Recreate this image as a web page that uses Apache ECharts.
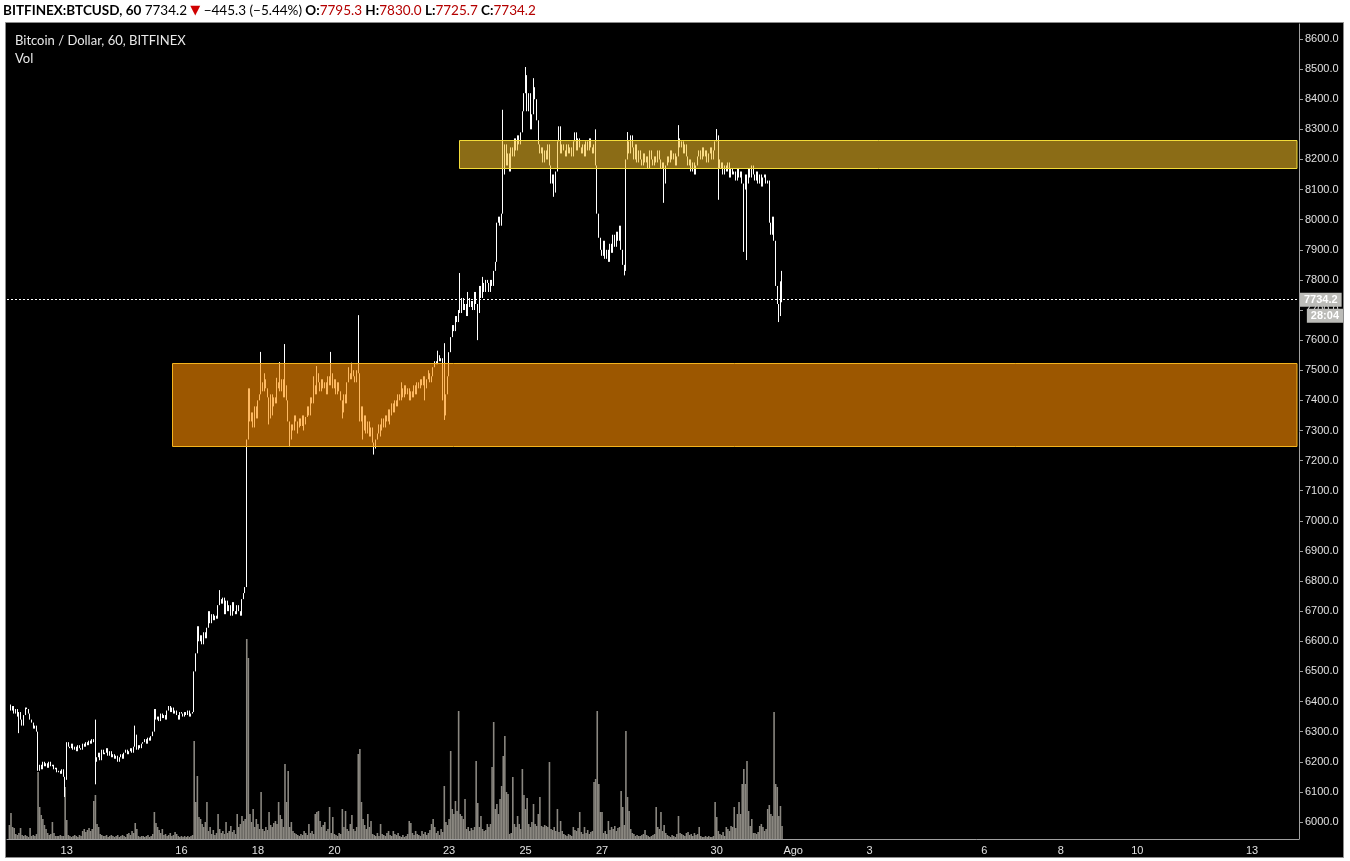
<!DOCTYPE html>
<html><head><meta charset="utf-8">
<script src="https://cdn.jsdelivr.net/npm/echarts@6/dist/echarts.min.js"></script>
<style>html,body{margin:0;padding:0;background:#fff;}#c{width:1350px;height:861px;}</style>
</head><body><div id="c"></div>
<script>
// ---------------- DATA ----------------
const symbolText = 'BITFINEX:BTCUSD, 60';
const chartTitle = 'Bitcoin / Dollar, 60, BITFINEX';
const volTitle = 'Vol';
const lastBar = { o: 7795.3, h: 7830.0, l: 7725.7, c: 7734.2, chg: -445.3, pct: -5.44 };
const countdown = '28:04';

// hourly closes, first bar 2018-07-11 12:00
const closes = [
 6390,6370,6385,6360,6375,6350,6365,6340,6320,6355,6380,6375,
 6360,6340,6330,6310,6320,6300,6170,6190,6175,6200,6185,6195,6180,6200,6185,6190,6175,6180,6165,6170,6160,6175,6150,6140,
 6265,6250,6245,6260,6240,6250,6235,6255,6245,6240,6260,6250,6265,6255,6270,6260,6275,6265,6200,6215,6230,6205,6240,6225,
 6230,6245,6220,6235,6215,6225,6210,6220,6200,6215,6225,6210,6230,6240,6225,6235,6245,6230,6250,6290,6240,6255,6245,6260,
 6265,6275,6260,6280,6270,6285,6300,6375,6340,6350,6335,6360,6345,6355,6340,6370,6385,6365,6380,6360,6370,6355,6340,6365,
 6360,6350,6365,6355,6370,6350,6360,6365,6500,6560,6650,6600,6620,6590,6630,6610,6645,6700,6660,6690,6670,6685,6675,6720,
 6740,6725,6745,6690,6735,6700,6720,6685,6730,6700,6690,6720,6700,6685,6740,6760,6780,7270,7440,7330,7360,7310,7380,7340,
 7400,7420,7460,7430,7470,7440,7410,7340,7420,7380,7410,7390,7440,7460,7430,7470,7410,7450,7400,7330,7270,7320,7300,7350,
 7330,7310,7340,7315,7350,7320,7345,7380,7350,7410,7390,7450,7420,7490,7460,7430,7470,7440,7460,7420,7480,7450,7490,7440,
 7470,7420,7460,7430,7400,7360,7420,7390,7460,7490,7470,7500,7480,7460,7500,7490,7330,7380,7300,7350,7290,7330,7280,7310,
 7260,7240,7270,7290,7320,7300,7340,7310,7350,7330,7370,7350,7390,7360,7400,7380,7420,7400,7440,7410,7450,7420,7440,7400,
 7430,7410,7450,7420,7460,7440,7470,7450,7480,7440,7470,7490,7460,7480,7510,7530,7520,7550,7530,7540,7400,7350,7420,7480,
 7560,7610,7650,7630,7680,7660,7700,7690,7740,7700,7720,7680,7740,7710,7730,7700,7760,7720,7690,7780,7740,7790,7760,7800,
 7790,7760,7800,7780,7830,7860,7990,8010,7980,8020,8150,8250,8180,8220,8160,8240,8210,8270,8230,8280,8250,8290,8360,8420,
 8480,8360,8420,8300,8350,8440,8400,8330,8250,8220,8240,8190,8230,8200,8250,8180,8120,8150,8090,8160,8260,8310,8220,8250,
 8230,8210,8250,8220,8240,8210,8260,8290,8230,8270,8240,8220,8250,8210,8260,8230,8270,8240,8220,8250,8180,8020,7940,7900,
 7880,7930,7870,7900,7860,7920,7890,7950,7910,7960,7930,7980,7900,7850,7830,8200,8260,8220,8280,8240,8200,8250,8190,8230,
 8200,8180,8220,8190,8210,8170,8230,8200,8180,8210,8190,8230,8200,8170,8190,8120,8180,8210,8190,8230,8200,8220,8180,8210,
 8270,8240,8260,8220,8250,8210,8180,8200,8160,8190,8150,8180,8210,8230,8200,8240,8210,8230,8190,8220,8240,8200,8230,8260,
 8280,8200,8170,8190,8150,8180,8160,8190,8140,8170,8150,8160,8130,8170,8140,8160,8120,8100,8150,8120,8170,8140,8180,8150,
 8130,8160,8120,8150,8110,8140,8150,8120,8130,7990,7950,8010,7930,7780,7720,7680,7795.3,7734.2
];

// hourly volume (relative units), same bars as closes
const volumes = [
 14,26,12,11,5,4,6,11,4,3,4,3,
 2,11,3,4,3,5,67,32,24,20,14,10,6,4,5,17,6,3,3,3,4,3,3,52,
 19,4,3,2,3,4,3,2,4,3,8,10,7,9,11,8,10,38,44,15,12,5,4,3,
 3,4,2,3,4,3,2,3,4,2,3,4,3,2,5,6,4,8,6,16,10,3,2,3,
 3,2,3,4,2,3,5,27,16,12,9,6,10,4,5,3,4,6,3,4,7,5,3,2,
 3,2,3,2,3,2,3,4,98,37,63,22,20,15,12,17,37,8,12,5,9,4,6,25,
 10,6,8,5,17,6,8,13,7,9,5,25,12,15,23,18,20,200,181,25,17,30,12,20,
 15,10,47,10,8,12,9,27,14,12,16,18,15,37,24,20,12,75,37,68,12,17,8,6,
 5,4,3,5,4,8,6,4,15,6,8,5,25,27,28,18,12,14,17,8,10,32,6,22,
 5,4,3,6,5,30,12,28,10,8,15,24,10,8,12,85,90,37,20,14,10,25,12,18,
 5,4,3,6,3,15,5,4,3,6,8,4,3,8,5,4,6,3,2,4,2,3,5,18,
 16,6,4,8,5,4,3,8,5,7,4,6,9,15,20,12,6,8,4,10,7,53,17,14,
 20,88,30,25,38,28,128,25,23,20,40,10,12,8,11,9,12,78,36,12,23,10,8,9,
 15,12,15,72,117,30,35,25,40,53,83,103,47,45,5,6,62,15,12,23,15,10,70,44,
 30,41,15,12,17,35,15,13,25,42,13,12,14,13,12,77,10,9,12,8,30,7,18,8,
 5,4,3,5,4,3,12,9,8,11,27,7,5,12,6,9,5,7,8,57,60,128,55,27,
 27,6,8,5,18,9,12,10,13,8,11,12,48,32,14,108,42,28,10,6,5,3,4,3,
 3,4,5,9,4,3,2,3,4,5,32,12,10,27,8,14,6,4,3,2,4,3,2,5,
 23,6,5,4,3,6,7,4,5,3,6,4,5,12,3,2,2,3,2,3,2,2,3,37,
 22,8,5,4,7,3,12,10,8,13,12,32,11,25,37,25,55,70,55,78,28,13,20,6,
 6,5,7,13,15,12,8,10,30,34,25,23,127,55,52,23,33,13
];

// wick extremes beyond the open/close range ('MM-DD HH', price)
const wickHighs = [
 ['07-13 18',6340],['07-14 19',6320],['07-17 00',6770],['07-18 02',7561],['07-18 14',7527],
 ['07-18 17',7587],['07-19 13',7514],['07-19 22',7561],['07-20 15',7683],['07-22 21',7590],
 ['07-23 07',7823],['07-24 10',8365],['07-25 00',8507],['07-25 05',8470],['07-26 20',8300],
 ['07-27 16',8291],['07-29 00',8314],['07-30 00',8301],['07-31 17',7830],
 ['07-18 04',7490],['07-18 12',7475],['07-19 11',7480],['07-20 09',7510],['07-20 11',7525],
 ['07-21 18',7460],['07-22 11',7500],['07-22 17',7565],['07-23 12',7760],['07-23 21',7810]
];
const wickLows = [
 ['07-11 18',6295],['07-12 23',6083],['07-13 18',6125],['07-18 20',7245],['07-21 01',7220],
 ['07-22 21',7335],['07-23 18',7600],['07-25 18',8076],['07-27 14',7815],['07-28 15',8056],
 ['07-30 01',8066],['07-30 17',7893],['07-30 19',7866],['07-31 15',7660],['07-31 17',7725.7],
 ['07-18 07',7320],['07-18 09',7350],['07-19 01',7290],['07-19 05',7300],['07-20 05',7340],
 ['07-20 18',7270],['07-21 05',7280],['07-21 11',7320],['07-22 09',7400]
];

// drawn zones: [start 'MM-DD HH', low, high] (extend to the right edge)
const zones = [
 ['07-23 06', 8170, 8265],
 ['07-15 18', 7250, 7523]
];

const priceTicks = [6000,6100,6200,6300,6400,6500,6600,6700,6800,6900,7000,7100,7200,7300,
 7400,7500,7600,7700,7800,7900,8000,8100,8200,8300,8400,8500,8600];
const dayLabels = [['07-13','13'],['07-16','16'],['07-18','18'],['07-20','20'],['07-23','23'],
 ['07-25','25'],['07-27','27'],['07-30','30'],['08-01','Ago'],['08-03','3'],['08-06','6'],
 ['08-08','8'],['08-10','10'],['08-13','13']];

// ---------------- STYLE ----------------
const zoneStyles = [
 { fill: 'rgba(248,193,39,0.56)', stroke: '#f3dc3a' },
 { fill: 'rgba(255,143,0,0.61)', stroke: '#f5b41e' }
];
const FONT = 'Lato';
const AXFONT = 'Liberation Sans';

// ---------------- BUILD ----------------
const axisStart = Date.UTC(2018, 6, 11, 11); // first slot (empty)
const SLOTS = 811;
const FIRST = 1;
const pad = n => String(n).padStart(2, '0');
const cats = [];
for (let i = 0; i < SLOTS; i++) {
  const d = new Date(axisStart + i * 3600e3);
  cats.push(pad(d.getUTCMonth() + 1) + '-' + pad(d.getUTCDate()) + ' ' + pad(d.getUTCHours()));
}
const hiMap = Object.fromEntries(wickHighs);
const loMap = Object.fromEntries(wickLows);
const candle = cats.map(() => '-');
const vol = cats.map(() => '-');
closes.forEach((c, i) => {
  const o = i ? closes[i - 1] : c;
  const key = cats[i + FIRST];
  let h = Math.max(o, c), l = Math.min(o, c);
  if (hiMap[key] != null) h = Math.max(h, hiMap[key]);
  if (loMap[key] != null) l = Math.min(l, loMap[key]);
  candle[i + FIRST] = [o, c, l, h];
  vol[i + FIRST] = volumes[i];
});
const labelMap = {};
dayLabels.forEach(([d, t]) => { labelMap[d + ' 00'] = t; });
const zoneData = zones.map(z => [cats.indexOf(z[0]), z[1], z[2]]);

const chart = echarts.init(document.getElementById('c'), null, { renderer: 'canvas' });
const GRID = { left: 7, top: 24, width: 1292, height: 815 };

const fmt = v => v.toFixed(1);
const headerText =
  '{sym|' + symbolText + '} {n|' + fmt(lastBar.c) + '} {dn|▼} {n|' +
  (lastBar.chg < 0 ? '−' : '+') + Math.abs(lastBar.chg).toFixed(1) + ' (' +
  (lastBar.pct < 0 ? '−' : '+') + Math.abs(lastBar.pct).toFixed(2) + '%)} ' +
  '{b|O:}{r|' + fmt(lastBar.o) + '} {b|H:}{r|' + fmt(lastBar.h) + '} {b|L:}{r|' + fmt(lastBar.l) + '} {b|C:}{r|' + fmt(lastBar.c) + '}';

chart.setOption({
  animation: false,
  backgroundColor: '#ffffff',
  graphic: [
    { id: 'frame', type: 'rect', z: -10, shape: { x: 5.5, y: 22.5, width: 1338, height: 835 },
      style: { fill: '#000', stroke: '#8c8c8c', lineWidth: 1 } },
    { id: 'hdr', type: 'text', z: 10, x: 3, y: 11,
      style: { text: headerText, verticalAlign: 'middle', font: '13px ' + FONT,
        rich: {
          sym: { fontFamily: FONT, fontSize: 13.5, fontWeight: 'bold', fill: '#000' },
          n: { fontFamily: FONT, fontSize: 13.5, fill: '#000' },
          dn: { fontFamily: 'DejaVu Sans', fontSize: 13, fill: '#d00000' },
          b: { fontFamily: FONT, fontSize: 13.5, fontWeight: 'bold', fill: '#000' },
          r: { fontFamily: FONT, fontSize: 13.5, fill: '#b40000' }
        } } },
    { id: 't1', type: 'text', z: 10, x: 15, y: 41,
      style: { text: chartTitle, fill: '#e8e8e8', font: '13px ' + FONT, verticalAlign: 'middle' } },
    { id: 't2', type: 'text', z: 10, x: 15, y: 59,
      style: { text: volTitle, fill: '#e8e8e8', font: '13px ' + FONT, verticalAlign: 'middle' } }
  ],
  grid: GRID,
  xAxis: {
    type: 'category', data: cats, boundaryGap: true,
    axisLine: { lineStyle: { color: '#a0a0a0', width: 1 } },
    axisTick: { interval: (i, v) => labelMap[v] !== undefined, alignWithLabel: true, length: 3,
      lineStyle: { color: '#a0a0a0' } },
    axisLabel: { interval: (i, v) => labelMap[v] !== undefined, formatter: v => labelMap[v] || '',
      color: '#e0e0e0', fontSize: 11, fontFamily: AXFONT, margin: 6 },
    splitLine: { show: false }
  },
  yAxis: [
    { type: 'value', position: 'right', min: 5943.5, max: 8649.8, scale: true,
      axisLine: { show: true, lineStyle: { color: '#a0a0a0' } },
      axisTick: { show: true, customValues: priceTicks, length: 4, lineStyle: { color: '#a0a0a0' } },
      axisLabel: { customValues: priceTicks, formatter: v => v.toFixed(1), color: '#e0e0e0',
        fontSize: 11, fontFamily: AXFONT, margin: 6 },
      splitLine: { show: false } },
    { type: 'value', min: 0, max: 815, show: false, splitLine: { show: false } }
  ],
  series: [
    { type: 'bar', name: 'Vol', yAxisIndex: 1, data: vol, barCategoryGap: '0%', barWidth: '100%',
      itemStyle: { color: '#8a8780' }, silent: true, z: 1, large: false },
    { type: 'candlestick', name: 'BTCUSD', yAxisIndex: 0, data: candle, barWidth: 1, large: false,
      silent: true, z: 2,
      itemStyle: { color: '#ffffff', color0: '#ffffff', borderColor: '#ffffff', borderColor0: '#ffffff', borderWidth: 1 },
      markLine: { symbol: 'none', silent: true, animation: false,
        lineStyle: { color: '#ffffff', type: [2, 2], width: 1 },
        label: { position: 'end', distance: 1, formatter: () => fmt(lastBar.c), color: '#ffffff',
          backgroundColor: '#bcbcb8', padding: [2, 4, 1, 4], fontSize: 11, fontWeight: 'bold', fontFamily: AXFONT },
        data: [{ yAxis: lastBar.c }] } },
    { type: 'custom', name: 'zones', data: zoneData, z: 5, silent: true,
      encode: { x: 0, y: [1, 2] },
      renderItem: (params, api) => {
        const p0 = api.coord([api.value(0), api.value(2)]);
        const p1 = api.coord([api.value(0), api.value(1)]);
        const cs = params.coordSys;
        const st = zoneStyles[params.dataIndex];
        const x = Math.round(p0[0]) + 0.5, y = Math.round(p0[1]) + 0.5;
        return { type: 'rect',
          shape: { x: x, y: y, width: cs.x + cs.width - 2 - x, height: Math.round(p1[1]) - Math.round(p0[1]) },
          style: { fill: st.fill, stroke: st.stroke, lineWidth: 1 } };
      } }
  ]
});

const py = chart.convertToPixel({ yAxisIndex: 0 }, lastBar.c);
chart.setOption({ graphic: [{ id: 'cd', type: 'text', z: 100, x: GRID.left + GRID.width + 44, y: py + 9,
  style: { text: countdown, fill: '#ffffff', font: 'bold 11px ' + AXFONT, align: 'right', verticalAlign: 'top',
    backgroundColor: '#bcbcb8', padding: [2, 4, 1, 4] } }] });
</script></body></html>
